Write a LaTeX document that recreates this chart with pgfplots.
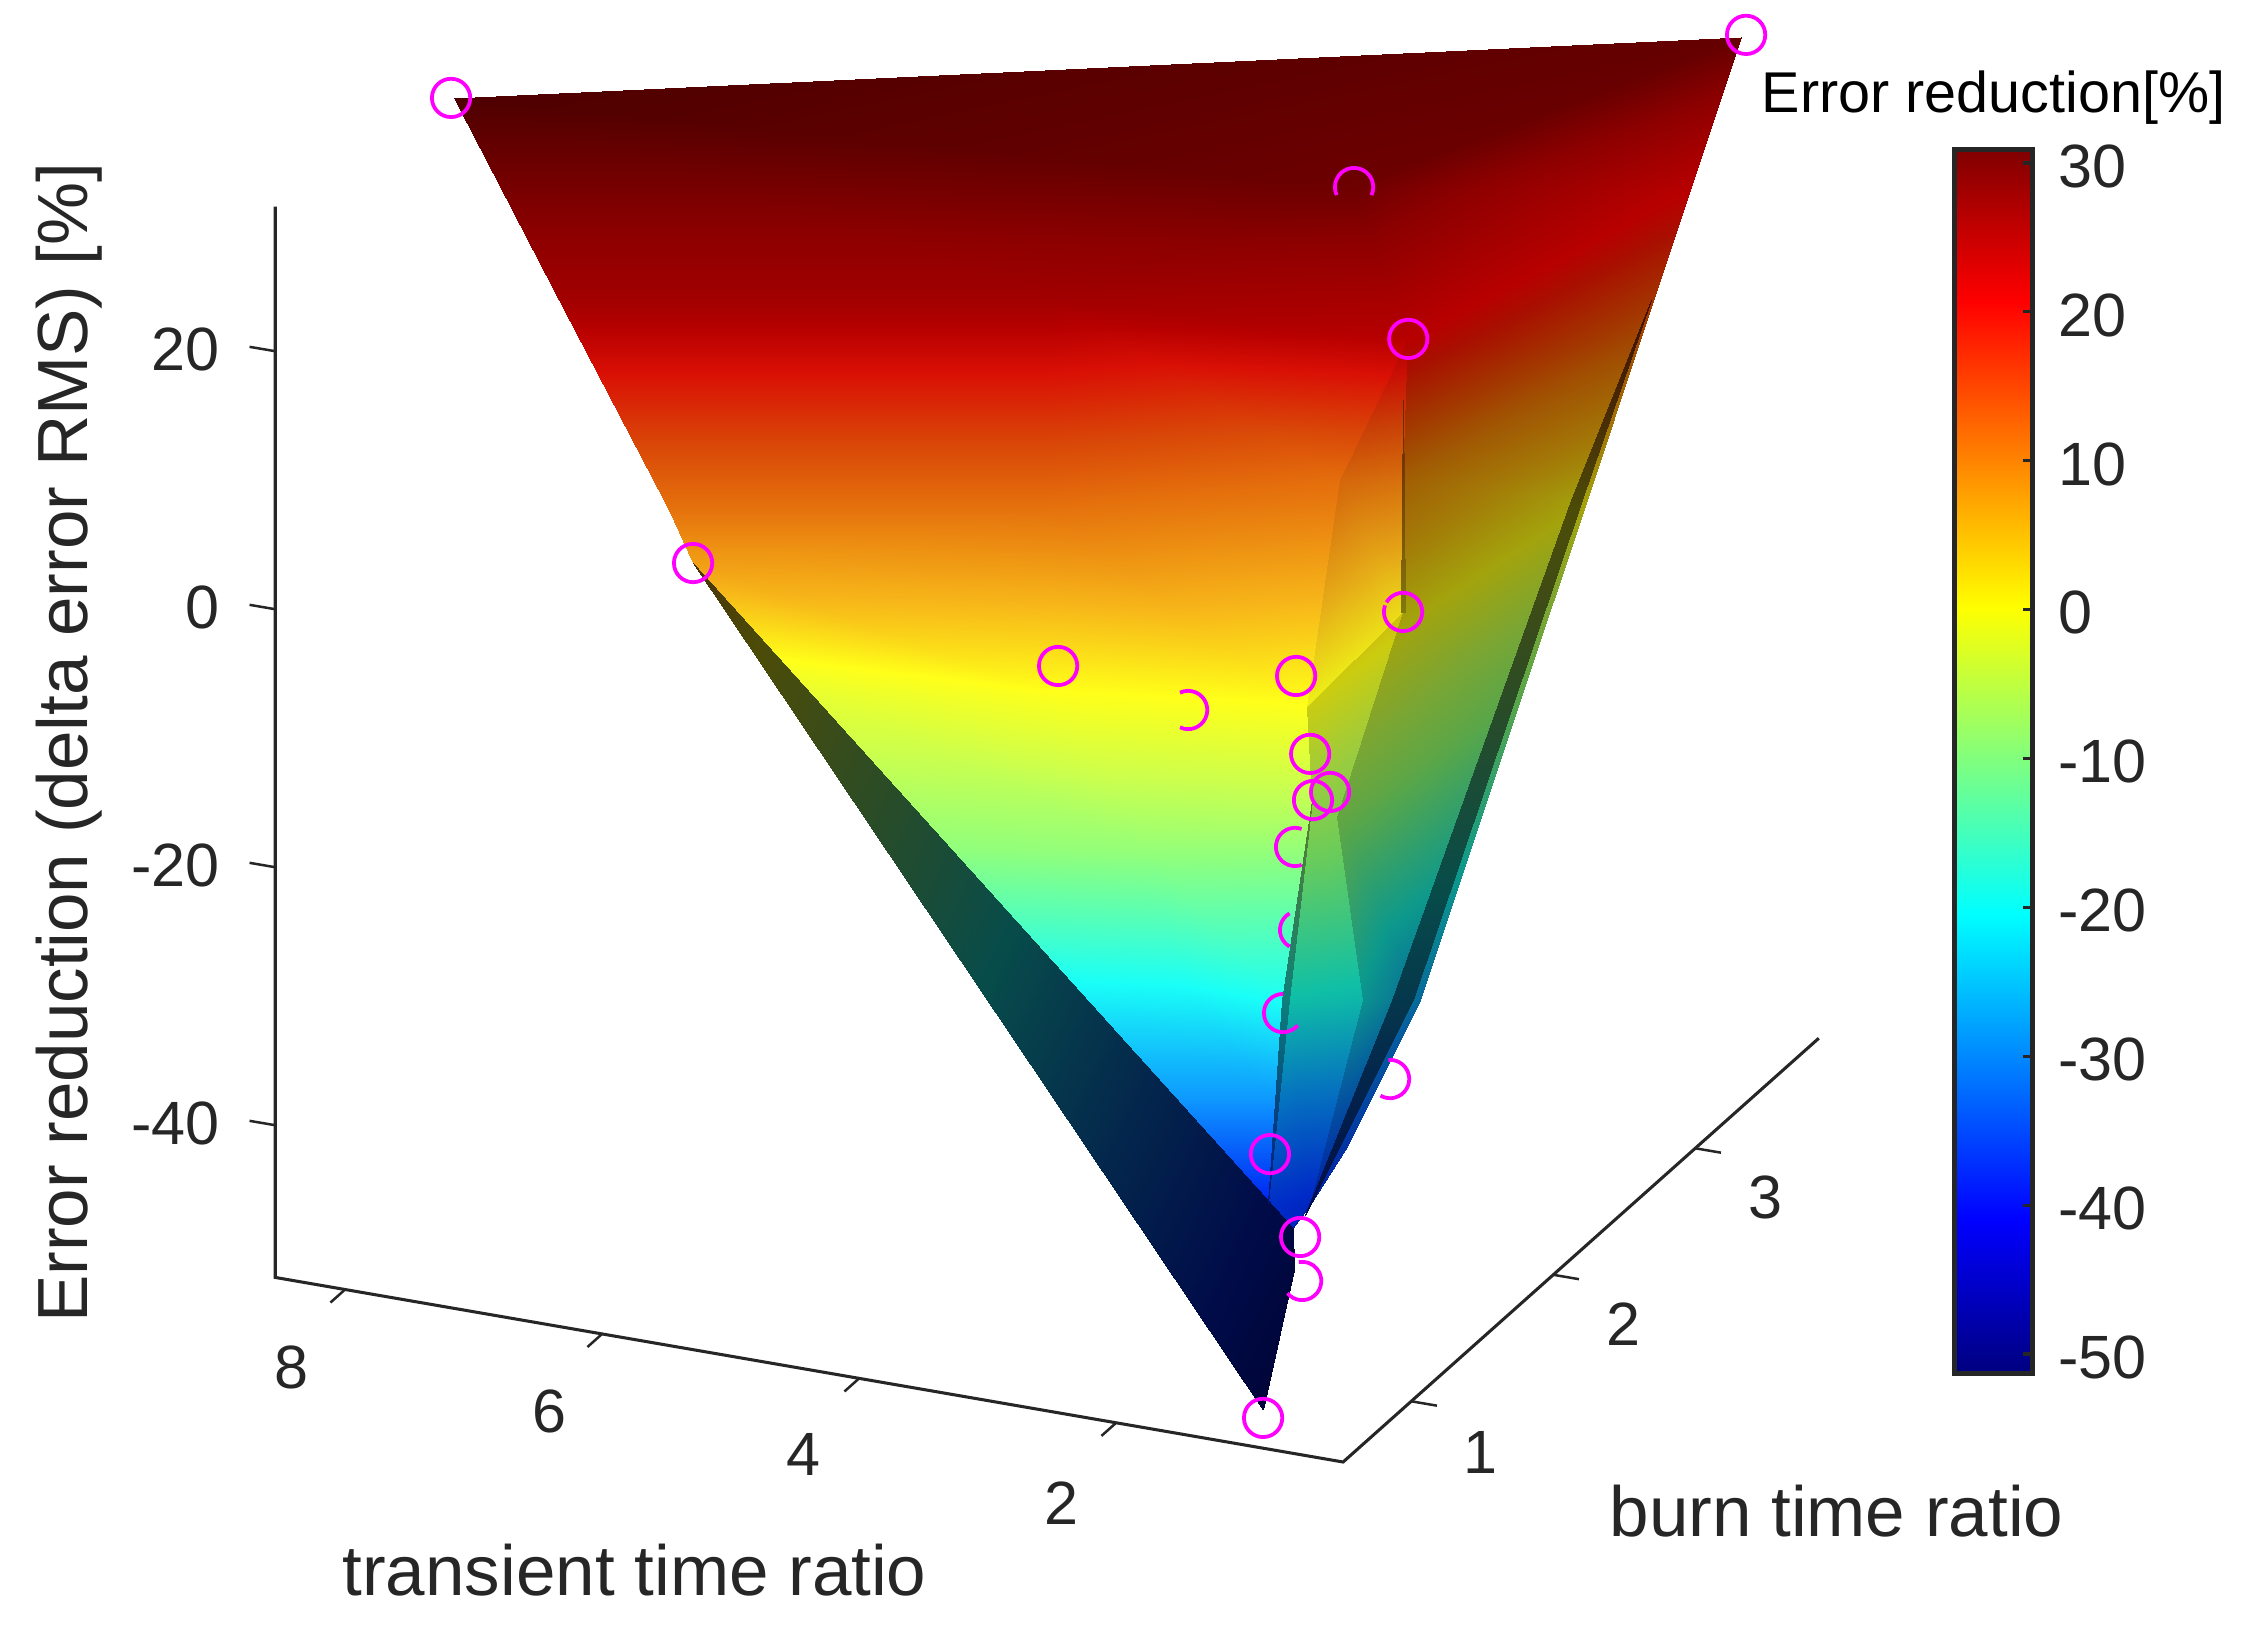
\documentclass[border=0pt]{standalone}
\usepackage{fontspec}
\setmainfont{Liberation Sans}
\usepackage{pgfplots}
\usepackage{pgfplotstable}
\pgfplotsset{compat=1.18}
\definecolor{ax}{HTML}{262626}
\definecolor{mk}{RGB}{255,0,255}
% colormaps of the surface at several lighting levels
\pgfplotsset{
colormap={lit}{rgb(0pt)=(0,0,.55); rgb(99pt)=(0,.15,.95); rgb(205pt)=(.05,.55,1); rgb(308pt)=(.1,1,.97); rgb(412pt)=(.55,1,.5); rgb(465pt)=(.8,1,.3); rgb(517pt)=(1,1,.1); rgb(565pt)=(.97,.72,.1); rgb(620pt)=(.9,.45,.05); rgb(665pt)=(.85,.28,.03); rgb(715pt)=(.85,.06,.02); rgb(745pt)=(.72,0,0); rgb(785pt)=(.55,0,0); rgb(826pt)=(.30,0,0)},
colormap={mzone}{rgb(0pt)=(0,0,.51); rgb(99pt)=(0,.14,.88); rgb(205pt)=(.047,.51,.93); rgb(308pt)=(.093,.93,.9); rgb(412pt)=(.51,.93,.465); rgb(465pt)=(.744,.93,.28); rgb(517pt)=(.93,.93,.093); rgb(565pt)=(.9,.67,.093); rgb(620pt)=(.837,.42,.047); rgb(665pt)=(.79,.26,.028); rgb(715pt)=(.79,.056,.019); rgb(745pt)=(.67,0,0); rgb(785pt)=(.51,0,0); rgb(826pt)=(.28,0,0)},
colormap={mstrip}{rgb(0pt)=(0,0,.6); rgb(99pt)=(0,.17,.78); rgb(205pt)=(.02,.45,.75); rgb(308pt)=(.06,.75,.65); rgb(412pt)=(.42,.8,.35); rgb(465pt)=(.6,.8,.25); rgb(517pt)=(.8,.8,.06); rgb(565pt)=(.8,.6,.04); rgb(620pt)=(.79,.41,.01); rgb(665pt)=(.8,.25,0); rgb(715pt)=(.8,.08,0); rgb(745pt)=(.85,0,0); rgb(785pt)=(.65,0,0); rgb(826pt)=(.35,0,0)},
colormap={mpanel}{rgb(0pt)=(0,0,.5); rgb(99pt)=(0,.14,.65); rgb(205pt)=(.02,.36,.62); rgb(308pt)=(.05,.6,.55); rgb(412pt)=(.33,.65,.3); rgb(465pt)=(.48,.65,.2); rgb(517pt)=(.64,.64,.05); rgb(565pt)=(.64,.48,.03); rgb(620pt)=(.63,.33,.01); rgb(665pt)=(.64,.2,0); rgb(715pt)=(.66,.06,0); rgb(745pt)=(.72,0,0); rgb(785pt)=(.55,0,0); rgb(826pt)=(.3,0,0)},
colormap={mcrease}{rgb(0pt)=(0,0,.275); rgb(99pt)=(0,.075,.475); rgb(205pt)=(.025,.275,.5); rgb(308pt)=(.05,.5,.485); rgb(412pt)=(.275,.5,.25); rgb(465pt)=(.4,.5,.15); rgb(517pt)=(.5,.5,.05); rgb(565pt)=(.485,.36,.05); rgb(620pt)=(.45,.225,.025); rgb(665pt)=(.425,.14,.015); rgb(715pt)=(.425,.03,.01); rgb(745pt)=(.36,0,0); rgb(785pt)=(.275,0,0); rgb(826pt)=(.15,0,0)},
colormap={mdark}{rgb(0pt)=(0,0,.165); rgb(99pt)=(0,.045,.285); rgb(205pt)=(.015,.165,.3); rgb(308pt)=(.03,.3,.291); rgb(412pt)=(.165,.3,.15); rgb(465pt)=(.24,.3,.09); rgb(517pt)=(.3,.3,.03); rgb(565pt)=(.291,.216,.03); rgb(620pt)=(.27,.135,.015); rgb(665pt)=(.255,.084,.009); rgb(715pt)=(.255,.018,.006); rgb(745pt)=(.216,0,0); rgb(785pt)=(.165,0,0); rgb(826pt)=(.09,0,0)},
ring/.style={only marks,mark size=6.9pt,mark options={draw=mk,fill=none,line width=1.35pt,solid}},
}
% vertices: x y z and the colour value on each kind of face
\pgfplotstableread{
x y z cl cm cp cd
8.207 1.479 31 31 0 0 0
0.389 3.467 29.5 29.5 0 0 0
1.864 2.076 29 29 0 0 0
0.775 1.472 25 23 23 23 0
0.31 3.036 22 23 0 23 0
0.483 2.84 12 0 0 12 0
0.696 2.66 1 0 0 0.5 0
0.613 2.113 -9 0 0 -10 0
0.769 1.55 -27 0 0 -29 0
1.389 1.582 -40 0 0 -39 0
1.724 1.519 -46 0 -43 -43 -44
1.288 1.9 9 0 10 9 0
1.077 1.709 1 0 1.5 1 0
0.856 1.044 -8 0 -8 -8 0
0.857 1.229 -24 0 -22 -22 0
1.498 1.435 -43 0 -43 -43 0
0.954 0.957 -6 -6 -6 0 -6
1.036 0.841 -20.5 -20.5 -21 0 0
1.254 0.981 -30 -30 0 0 0
1.692 1.315 -42 -42 -41 0 -41
1.102 1.055 0 0 0 0 0
1.511 1.658 11 11 11 0 0
6.796 0.941 23 25 0 0 0
3.589 1.497 23 25 0 0 0
5.721 0.742 10.5 10.5 0 0 0
3.232 1.173 10.5 10.5 0 0 0
5.506 0.717 7 7 0 0 6
4.701 0.77 -2 -2 0 0 0
2.804 0.856 0 0 0 0 0
3.331 0.559 -10 -10 0 0 0
1.978 0.742 -9.5 -9.5 0 0 0
2.584 0.743 -21 -21 0 0 0
1.851 0.839 -20.7 -20.7 0 0 0
1.907 0.868 -30 -30 0 0 0
1.788 1.585 -50 0 0 0 -45
1.115 0.758 -51.6 -51 0 0 -47
1.192 0.778 -51 -50 0 0 0
0.231 2.69 17 0 0 0 17
0.801 2.642 1 0 0 0 1
0.729 2.654 1 0 0 0 1
0.952 1.518 -27 0 0 0 -27
0.815 1.542 -27 0 0 0 -27
1.552 1.449 -44 0 0 0 -42
1.055 0.838 -20.5 0 0 0 -20.5
1.01 0.846 -20.5 0 0 0 -20.5
1.307 1.917 15 0 0 0 15
1.09 1.707 1 0 0 0 1
1.064 1.711 1 0 0 0 1
}\verts
% ring marks, whole or partly hidden by the surface
\newcommand\mkarc[3]{\pgfdeclareplotmark{#1}{%
 \pgfpathmoveto{\pgfqpointpolar{#2}{\pgfplotmarksize}}%
 \pgfpatharc{#2}{#3}{\pgfplotmarksize}\pgfusepathqstroke}}
\mkarc{rC}{-25}{205}
\mkarc{rH}{-115}{115}
\mkarc{rN}{120}{240}
\mkarc{rO}{90}{320}
\mkarc{rP}{-120}{95}
\mkarc{rS}{-140}{100}
\mkarc{rM}{70}{290}
\mkarc{rF}{-200}{150}
\newcommand\tickf{\fontsize{22}{24}\selectfont}
\newcommand\labf{\fontsize{25.56}{28}\selectfont}
\begin{document}
\begin{tikzpicture}[x=1pt,y=1pt]
\path[use as bounding box] (0,0) rectangle (810.72pt,590.76pt);
\begin{axis}[
 anchor=origin, at={(467.57pt,279.5pt)},
 x={(-46.26pt,7.884pt)}, y={(51.12pt,45.54pt)}, z={(0pt,4.644pt)},
 disabledatascaling,
 xmin=0,xmax=9,ymin=0,ymax=4,zmin=-60,zmax=40,
 hide axis, clip=false,
 point meta min=-51.5, point meta max=31.1,
 colormap name=lit,
 table/row sep=\\,
]
\addplot3[patch,shader=interp,colormap name=lit,point meta=explicit,patch table={%
0 1 2\\ 0 2 23\\ 0 23 22\\ 2 3 23\\ 2 1 4\\ 2 4 3\\ 22 23 25\\ 22 25 24\\ 24 25 26\\ 26 25 28\\
26 28 27\\ 23 21 25\\ 23 3 21\\ 25 21 20\\ 25 20 28\\ 27 28 30\\ 27 30 29\\ 28 20 16\\ 28 16 30\\ 30 16 17\\
30 17 32\\ 29 30 32\\ 29 32 31\\ 31 32 18\\ 32 17 18\\ 31 18 33\\ 33 18 19\\ 26 35 36\\}] table[x=x,y=y,z=z,meta=cl] {\verts};
\addplot3[patch,shader=interp,colormap name=mzone,point meta=explicit,patch table={%
3 11 21\\ 21 11 12\\ 21 12 20\\}] table[x=x,y=y,z=z,meta=cm] {\verts};
\addplot3[patch,shader=interp,colormap name=mstrip,point meta=explicit,patch table={%
12 13 20\\ 20 13 16\\ 16 13 14\\ 16 14 17\\ 17 14 15\\ 17 15 19\\ 19 15 10\\}] table[x=x,y=y,z=z,meta=cm] {\verts};
\addplot3[patch,shader=interp,colormap name=mpanel,point meta=explicit,patch table={%
3 4 5\\ 3 5 11\\ 11 5 6\\ 11 6 12\\ 12 6 7\\ 12 7 13\\ 13 7 8\\ 13 8 14\\ 14 8 9\\ 14 9 15\\ 15 9 10\\}] table[x=x,y=y,z=z,meta=cp] {\verts};
\addplot3[patch,shader=interp,colormap name=mdark,point meta=explicit,patch table={%
37 38 39\\ 38 39 41\\ 38 41 40\\ 40 41 42\\ 26 10 34\\ 26 34 35\\}] table[x=x,y=y,z=z,meta=cd] {\verts};
\addplot3[patch,shader=interp,colormap name=mcrease,point meta=explicit,patch table={%
16 43 44\\ 43 44 19\\ 45 46 47\\}] table[x=x,y=y,z=z,meta=cd] {\verts};
% axis lines and ticks
\addplot3[ax,line width=1.1pt,no marks] coordinates {(8.54,0.52,31.4)(8.54,0.52,-51.6)(0.23,0.52,-51.8)(0.23,3.87,-51.8)};
\addplot3[ax,line width=0.9pt,no marks] coordinates {(8,0.52,-51.65)(8,0.42,-51.65)};
\addplot3[ax,line width=0.9pt,no marks] coordinates {(6,0.52,-51.7)(6,0.42,-51.7)};
\addplot3[ax,line width=0.9pt,no marks] coordinates {(4,0.52,-51.75)(4,0.42,-51.75)};
\addplot3[ax,line width=0.9pt,no marks] coordinates {(2,0.52,-51.8)(2,0.42,-51.8)};
\addplot3[ax,line width=0.9pt,no marks] coordinates {(0.23,1,-51.8)(0.03,1,-51.8)};
\addplot3[ax,line width=0.9pt,no marks] coordinates {(0.23,2,-51.8)(0.03,2,-51.8)};
\addplot3[ax,line width=0.9pt,no marks] coordinates {(0.23,3,-51.8)(0.03,3,-51.8)};
\addplot3[ax,line width=0.9pt,no marks] coordinates {(8.54,0.52,20.2)(8.74,0.52,20.2)};
\addplot3[ax,line width=0.9pt,no marks] coordinates {(8.54,0.52,0.2)(8.74,0.52,0.2)};
\addplot3[ax,line width=0.9pt,no marks] coordinates {(8.54,0.52,-19.8)(8.74,0.52,-19.8)};
\addplot3[ax,line width=0.9pt,no marks] coordinates {(8.54,0.52,-39.8)(8.74,0.52,-39.8)};
% measured points
\addplot3[ring,mark=o] coordinates {(8.227,1.475,31)(0.23,3.358,31)(0.775,1.472,25)(5.506,0.717,7)(2.745,0.789,3)(1.306,1.163,1)(1.116,1.09,-4)(0.896,1.031,-6)(0.948,0.958,-6)(1.471,1.128,-36)(1.612,1.468,-46)(1.057,0.705,-51.6)};
\addplot3[ring,mark=rF] coordinates {(1.077,1.709,1)};
\addplot3[ring,mark=rC] coordinates {(1.864,2.076,29)};
\addplot3[ring,mark=rH] coordinates {(2.046,1.072,-2)};
\addplot3[ring,mark=rM] coordinates {(1.1,0.969,-10)};
\addplot3[ring,mark=rN] coordinates {(1.032,0.936,-16)};
\addplot3[ring,mark=rO] coordinates {(1.19,0.966,-23)};
\addplot3[ring,mark=rP] coordinates {(0.48,1.077,-28)};
\addplot3[ring,mark=rS] coordinates {(1.655,1.521,-50)};
\end{axis}
% colour bar
\begin{axis}[
 at={(703.62pt,96.3pt)}, anchor=south west, scale only axis,
 width=28.08pt, height=440.64pt,
 xmin=0,xmax=1,ymin=-51.3,ymax=30.9,
 xtick=\empty,
 ytick={-50,-40,-30,-20,-10,0,10,20,30},
 yticklabels={-50,-40,-30,-20,-10,0,10,20,30},
 ytick pos=right, tick align=inside, major tick length=3.6pt,
 tick style={ax,line width=1.2pt},
 axis line style={ax,line width=1.7pt},
 yticklabel style={anchor=west,inner sep=0pt,xshift=9pt,yshift=-1.2pt,text=ax,font=\tickf},
 title={Error reduction[\%]},
 title style={at={(0.5,1)},anchor=base,yshift=7.4pt,inner sep=0pt,font=\fontsize{20.7}{23}\selectfont,text=black},
 colormap/jet, point meta min=-51.3, point meta max=30.9,
 axis on top,
]
\addplot[patch,patch type=rectangle,shader=interp,point meta=y] coordinates {(0,-51.3)(1,-51.3)(1,30.9)(0,30.9)};
\end{axis}
% axis texts
\newcommand\PT[2]{({#1*0.36pt},{(1641-#2)*0.36pt})}
\begin{scope}[every node/.style={inner sep=0pt,text=ax}]
\node[anchor=center,font=\tickf] at \PT{291}{1367} {8};
\node[anchor=center,font=\tickf] at \PT{549}{1411} {6};
\node[anchor=center,font=\tickf] at \PT{803}{1454} {4};
\node[anchor=center,font=\tickf] at \PT{1061}{1503} {2};
\node[anchor=center,font=\tickf] at \PT{1480}{1452} {1};
\node[anchor=center,font=\tickf] at \PT{1623}{1324} {2};
\node[anchor=center,font=\tickf] at \PT{1765}{1197} {3};
\node[anchor=base east,font=\tickf] at \PT{220}{371} {20};
\node[anchor=base east,font=\tickf] at \PT{220}{629} {0};
\node[anchor=base east,font=\tickf] at \PT{220}{887} {-20};
\node[anchor=base east,font=\tickf] at \PT{220}{1145} {-40};
\node[anchor=base west,font=\labf] at \PT{342}{1596} {transient time ratio};
\node[anchor=base west,font=\labf] at \PT{1609}{1537} {burn time ratio};
\node[anchor=base,rotate=90,font=\labf] at \PT{87}{743} {Error reduction (delta error RMS) [\%]};
\end{scope}
\end{tikzpicture}
\end{document}
